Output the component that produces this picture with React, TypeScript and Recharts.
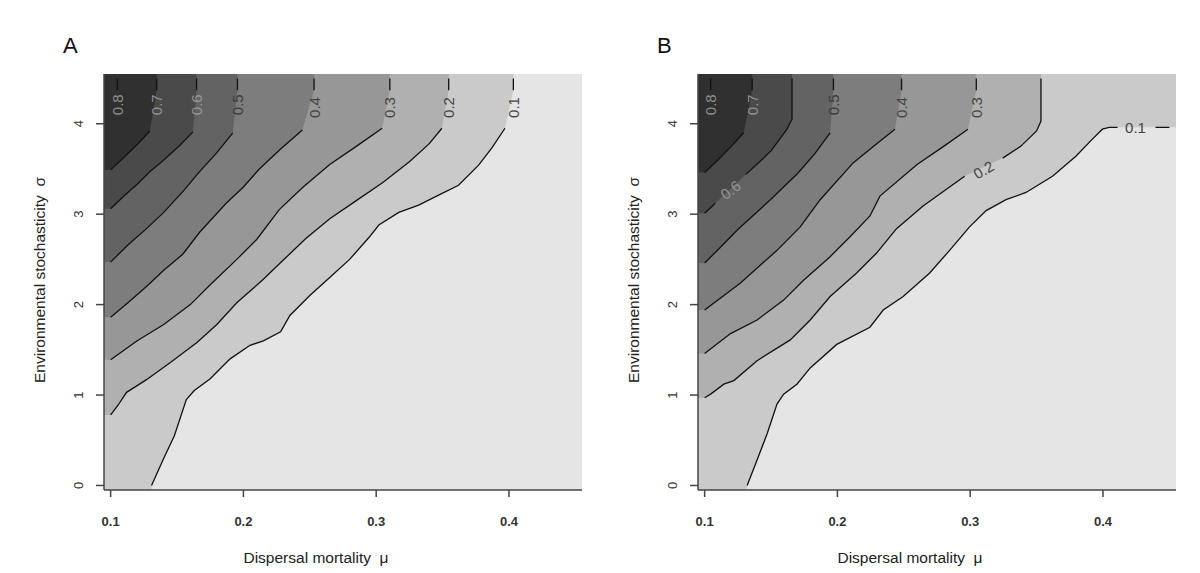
import React from 'react';
import { ComposedChart, Area, Line, Scatter, XAxis, YAxis, CartesianGrid } from 'recharts';

type Pt = [number, number] | null;

// plot extent (the image cells run half a cell past the grid)
const X_MIN = 0.095;
const X_MAX = 0.455;
const Y_MIN = -0.05;
const Y_MAX = 4.55;
const GRID_X0 = 0.1;
const GRID_X1 = 0.45;
const GRID_Y1 = 4.5;

const X_TICKS = [0.1, 0.2, 0.3, 0.4];
const Y_TICKS = [0, 1, 2, 3, 4];

// null = gap in the line where the contour label sits
const CONTOUR_A_08: Pt[] = [null, [0.105, 4.37], [0.105, 4.5]];
const CONTOUR_A_07: Pt[] = [[0.1, 3.49], [0.11, 3.63], [0.12, 3.77], [0.1295, 3.92], null, [0.1347, 4.37], [0.1347, 4.5]];
const CONTOUR_A_06: Pt[] = [[0.1, 3.06], [0.11, 3.2], [0.12, 3.33], [0.1295, 3.47], [0.14, 3.6], [0.152, 3.76], [0.162, 3.91], null, [0.1647, 4.37], [0.1647, 4.5]];
const CONTOUR_A_05: Pt[] = [[0.1, 2.47], [0.113, 2.66], [0.127, 2.84], [0.14, 3.02], [0.155, 3.26], [0.167, 3.47], [0.18, 3.68], [0.192, 3.9], null, [0.1955, 4.37], [0.1955, 4.5]];
const CONTOUR_A_04: Pt[] = [[0.1, 1.86], [0.113, 2.02], [0.127, 2.2], [0.14, 2.38], [0.1545, 2.56], [0.167, 2.8], [0.187, 3.12], [0.2, 3.3], [0.212, 3.5], [0.228, 3.72], [0.2444, 3.93], null, [0.2532, 4.37], [0.2532, 4.5]];
const CONTOUR_A_03: Pt[] = [[0.1, 1.39], [0.12, 1.6], [0.14, 1.78], [0.16, 2.0], [0.175, 2.22], [0.195, 2.5], [0.21, 2.72], [0.227, 3.05], [0.245, 3.3], [0.265, 3.55], [0.285, 3.75], [0.3045, 3.95], null, [0.3103, 4.37], [0.3103, 4.5]];
const CONTOUR_A_02: Pt[] = [[0.1, 0.78], [0.1057, 0.89], [0.112, 1.03], [0.127, 1.17], [0.145, 1.36], [0.165, 1.58], [0.18, 1.78], [0.195, 2.02], [0.215, 2.28], [0.232, 2.52], [0.247, 2.73], [0.265, 2.95], [0.285, 3.15], [0.305, 3.35], [0.325, 3.58], [0.34, 3.78], [0.3495, 3.95], null, [0.3546, 4.37], [0.3546, 4.5]];
const CONTOUR_A_01: Pt[] = [[0.1308, 0], [0.14, 0.3], [0.148, 0.55], [0.157, 0.95], [0.163, 1.05], [0.175, 1.18], [0.19, 1.4], [0.205, 1.55], [0.215, 1.6], [0.228, 1.7], [0.235, 1.88], [0.25, 2.1], [0.265, 2.3], [0.28, 2.5], [0.295, 2.75], [0.302, 2.88], [0.317, 3.02], [0.332, 3.1], [0.347, 3.21], [0.362, 3.32], [0.377, 3.54], [0.387, 3.73], [0.397, 3.95], null, [0.4033, 4.37], [0.4033, 4.5]];

const CONTOUR_B_08: Pt[] = [null, [0.1045, 4.37], [0.1045, 4.5]];
const CONTOUR_B_07: Pt[] = [[0.1, 3.46], [0.11, 3.6], [0.12, 3.75], [0.1295, 3.9], null, [0.1358, 4.37], [0.1358, 4.5]];
const CONTOUR_B_06: Pt[] = [[0.1, 3.01], [0.108, 3.12], null, [0.131, 3.44], [0.14, 3.56], [0.15, 3.7], [0.162, 3.94], [0.1658, 4.05], [0.1658, 4.5]];
const CONTOUR_B_05: Pt[] = [[0.1, 2.46], [0.113, 2.65], [0.125, 2.83], [0.1495, 3.16], [0.17, 3.45], [0.183, 3.67], [0.1945, 3.9], null, [0.197, 4.37], [0.197, 4.5]];
const CONTOUR_B_04: Pt[] = [[0.1, 1.94], [0.127, 2.24], [0.1545, 2.6], [0.172, 2.86], [0.187, 3.16], [0.212, 3.57], [0.228, 3.76], [0.2433, 3.94], null, [0.2483, 4.37], [0.2483, 4.5]];
const CONTOUR_B_03: Pt[] = [[0.1, 1.46], [0.1195, 1.68], [0.1395, 1.83], [0.1595, 2.05], [0.1745, 2.27], [0.1945, 2.53], [0.2095, 2.75], [0.2245, 2.98], [0.232, 3.2], [0.26, 3.55], [0.28, 3.75], [0.2983, 3.94], null, [0.3046, 4.37], [0.3046, 4.5]];
const CONTOUR_B_02: Pt[] = [[0.1, 0.97], [0.1045, 1.01], [0.1145, 1.12], [0.122, 1.16], [0.1395, 1.38], [0.1645, 1.61], [0.1795, 1.83], [0.1945, 2.09], [0.2145, 2.35], [0.2295, 2.57], [0.2445, 2.84], [0.2645, 3.09], [0.2958, 3.42], null, [0.3245, 3.62], [0.338, 3.75], [0.35, 3.92], [0.3533, 4.03], [0.3533, 4.5]];
const CONTOUR_B_01: Pt[] = [[0.132, 0], [0.14, 0.3], [0.147, 0.57], [0.1545, 0.9], [0.1595, 1.01], [0.1695, 1.12], [0.1795, 1.3], [0.1995, 1.56], [0.2245, 1.75], [0.2345, 1.94], [0.2495, 2.09], [0.2695, 2.35], [0.2845, 2.6], [0.2995, 2.86], [0.312, 3.04], [0.327, 3.16], [0.342, 3.24], [0.362, 3.42], [0.3796, 3.64], [0.392, 3.83], [0.3996, 3.94], [0.4046, 3.96], [0.411, 3.96], null, [0.4396, 3.96], [0.45, 3.96]];

interface ContourLabel { x: number; y: number; text: string; angle: number }

const LABELS_A: ContourLabel[] = [
  { x: 0.105, y: 4.21, text: '0.8', angle: -90 },
  { x: 0.1347, y: 4.21, text: '0.7', angle: -90 },
  { x: 0.1647, y: 4.21, text: '0.6', angle: -90 },
  { x: 0.1955, y: 4.21, text: '0.5', angle: -90 },
  { x: 0.2532, y: 4.18, text: '0.4', angle: -90 },
  { x: 0.3103, y: 4.18, text: '0.3', angle: -90 },
  { x: 0.3546, y: 4.18, text: '0.2', angle: -90 },
  { x: 0.4033, y: 4.18, text: '0.1', angle: -90 },
];

const LABELS_B: ContourLabel[] = [
  { x: 0.1045, y: 4.21, text: '0.8', angle: -90 },
  { x: 0.1358, y: 4.21, text: '0.7', angle: -90 },
  { x: 0.1195, y: 3.27, text: '0.6', angle: -37 },
  { x: 0.197, y: 4.21, text: '0.5', angle: -90 },
  { x: 0.2483, y: 4.18, text: '0.4', angle: -90 },
  { x: 0.3046, y: 4.18, text: '0.3', angle: -90 },
  { x: 0.31, y: 3.49, text: '0.2', angle: -30 },
  { x: 0.4245, y: 3.96, text: '0.1', angle: 0 },
];

// shade of the region above each contour
const FILLS: Record<string, string> = {
  '0.1': '#cacaca',
  '0.2': '#b0b0b0',
  '0.3': '#979797',
  '0.4': '#7d7d7d',
  '0.5': '#636363',
  '0.6': '#4a4a4a',
  '0.7': '#303030',
};

// labels sitting on the dark bands read lighter than the rest
const LABEL_INK: Record<string, string> = {
  '0.8': '#8e8e8e',
  '0.7': '#929292',
  '0.6': '#969696',
  '0.5': '#3c3c3c',
};

const toLine = (c: Pt[]) => {
  let lastX = GRID_X0;
  return c.map((p) => {
    if (p) {
      lastX = p[0];
      return { x: p[0], y: p[1] };
    }
    return { x: lastX, y: null };
  });
};

// region above/left of a contour, closed against the plot edges
const toFill = (c: Pt[]) => {
  const pts = c.filter((p): p is [number, number] => p !== null);
  const out: { x: number; y: number }[] = [];
  const [fx, fy] = pts[0];
  if (fy <= 0) out.push({ x: X_MIN, y: Y_MIN }, { x: fx, y: Y_MIN });
  else if (fx <= GRID_X0) out.push({ x: X_MIN, y: fy });
  pts.forEach(([x, y]) => out.push({ x, y }));
  const [lx, ly] = pts[pts.length - 1];
  if (ly >= GRID_Y1) out.push({ x: lx, y: Y_MAX });
  else if (lx >= GRID_X1) out.push({ x: X_MAX, y: ly });
  return out;
};

const YTick = (props: any) => {
  const { x, y, payload } = props;
  const ax = x - 13;
  return (
    <text x={ax} y={y} transform={`rotate(-90, ${ax}, ${y})`} textAnchor="middle" fontSize={13} fill="#333">
      {payload.value}
    </text>
  );
};

const LabelShape = (props: any) => {
  const { cx, cy, payload } = props;
  return (
    <text
      x={cx}
      y={cy}
      transform={`rotate(${payload.angle}, ${cx}, ${cy})`}
      textAnchor="middle"
      dominantBaseline="central"
      fontSize={15}
      fill={LABEL_INK[payload.text] || '#444'}
    >
      {payload.text}
    </text>
  );
};

interface PanelProps {
  title: string;
  left: number;
  contours: [string, Pt[]][];
  labels: ContourLabel[];
}

const Panel = ({ title, left, contours, labels }: PanelProps) => {
  const filled = contours.filter(([lvl]) => FILLS[lvl]);
  return (
    <div style={{ position: 'absolute', left, top: 0, width: 600, height: 573 }}>
      <div style={{ position: 'absolute', left: 63, top: 33, fontSize: 22, color: '#111' }}>{title}</div>
      <ComposedChart width={600} height={573} margin={{ top: 74, right: 18, bottom: 0, left: 0 }}>
        <CartesianGrid fill="#e5e5e5" stroke="none" horizontal={false} vertical={false} />
        <XAxis
          type="number"
          dataKey="x"
          domain={[X_MIN, X_MAX]}
          ticks={X_TICKS}
          interval={0}
          allowDataOverflow
          height={83}
          tickSize={7}
          tickMargin={20}
          axisLine={{ stroke: '#444', strokeWidth: 1.5 }}
          tickLine={{ stroke: '#444', strokeWidth: 1.5 }}
          tick={{ fontSize: 13, fill: '#333', fontWeight: 700 }}
          label={{ value: 'Dispersal mortality\u00A0 μ', position: 'insideBottom', offset: 10, dx: -27, fontSize: 15.5, fill: '#222' }}
        />
        <YAxis
          type="number"
          dataKey="y"
          domain={[Y_MIN, Y_MAX]}
          ticks={Y_TICKS}
          interval={0}
          allowDataOverflow
          width={104}
          tickSize={8}
          tickMargin={0}
          axisLine={{ stroke: '#444', strokeWidth: 1.5 }}
          tickLine={{ stroke: '#444', strokeWidth: 1.5 }}
          tick={<YTick />}
          label={{ value: 'Environmental stochasticity\u00A0 σ', angle: -90, position: 'insideLeft', offset: 39, dy: -2, fontSize: 15.5, fill: '#222', style: { textAnchor: 'middle' } }}
        />
        {filled.map(([lvl, c]) => (
          <Area
            key={`f${lvl}`}
            data={toFill(c)}
            dataKey="y"
            type="linear"
            baseValue={Y_MAX}
            stroke="none"
            fill={FILLS[lvl]}
            fillOpacity={1}
            isAnimationActive={false}
          />
        ))}
        {contours.map(([lvl, c]) => (
          <Line
            key={`l${lvl}`}
            data={toLine(c)}
            dataKey="y"
            type="linear"
            stroke="#111"
            strokeWidth={1.3}
            dot={false}
            activeDot={false}
            isAnimationActive={false}
          />
        ))}
        <Scatter data={labels} dataKey="y" shape={<LabelShape />} isAnimationActive={false} />
      </ComposedChart>
    </div>
  );
};

const CONTOURS_A: [string, Pt[]][] = [
  ['0.1', CONTOUR_A_01], ['0.2', CONTOUR_A_02], ['0.3', CONTOUR_A_03], ['0.4', CONTOUR_A_04],
  ['0.5', CONTOUR_A_05], ['0.6', CONTOUR_A_06], ['0.7', CONTOUR_A_07], ['0.8', CONTOUR_A_08],
];
const CONTOURS_B: [string, Pt[]][] = [
  ['0.1', CONTOUR_B_01], ['0.2', CONTOUR_B_02], ['0.3', CONTOUR_B_03], ['0.4', CONTOUR_B_04],
  ['0.5', CONTOUR_B_05], ['0.6', CONTOUR_B_06], ['0.7', CONTOUR_B_07], ['0.8', CONTOUR_B_08],
];

export default function App() {
  return (
    <div
      style={{
        position: 'absolute',
        left: 0,
        top: 0,
        width: 1200,
        height: 573,
        background: '#fff',
        fontFamily: '"Liberation Sans", Arial, sans-serif',
      }}
    >
      <Panel title="A" left={0} contours={CONTOURS_A} labels={LABELS_A} />
      <Panel title="B" left={594} contours={CONTOURS_B} labels={LABELS_B} />
    </div>
  );
}
